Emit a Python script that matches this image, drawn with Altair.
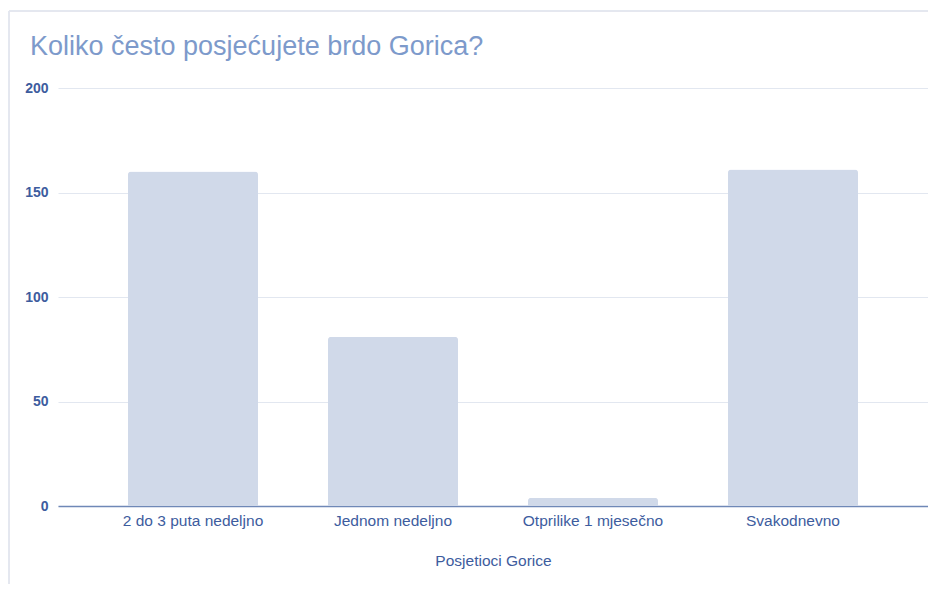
import altair as alt
import pandas as pd

categories = ["2 do 3 puta nedeljno", "Jednom nedeljno", "Otprilike 1 mjesečno", "Svakodnevno"]
values = [160, 81, 4, 161]
title_text = ["Koliko često posjećujete brdo Gorica?"]

df = pd.DataFrame({"kategorija": categories, "broj": values})
tdf = pd.DataFrame({"t": title_text})

FONT = "Liberation Sans"
BLUE = "#3d5c9e"

bars = alt.Chart(df).mark_bar(
    color="#d0d9e9", cornerRadiusTopLeft=3, cornerRadiusTopRight=3
).encode(
    x=alt.X(
        "kategorija:N",
        sort=categories,
        title="Posjetioci Gorice",
        scale=alt.Scale(paddingInner=0.35, paddingOuter=0.35),
        axis=alt.Axis(
            labelAngle=0, labelFont=FONT, labelFontSize=15.5, labelColor=BLUE,
            titleFont=FONT, titleFontSize=15.5, titleColor=BLUE, titleFontWeight="normal",
            titlePadding=25, labelPadding=7, ticks=False, grid=False,
            domainColor="#6f88b7", domainWidth=1.6,
        ),
    ),
    y=alt.Y(
        "broj:Q",
        title=None,
        scale=alt.Scale(domain=[0, 200]),
        axis=alt.Axis(
            values=[0, 50, 100, 150, 200], labelFont=FONT, labelFontSize=14,
            labelColor=BLUE, labelFontWeight="bold", labelPadding=10,
            ticks=False, domain=False, gridColor="#e2e7f0", gridWidth=1.2,
        ),
    ),
)

frame = alt.Chart(df).mark_rect(
    fill=None, stroke="#e3e6ee", strokeWidth=1
).encode(
    x=alt.value(-49), x2=alt.value(900), y=alt.value(-77), y2=alt.value(120 + 418)
)

title = alt.Chart(tdf).mark_text(
    align="left", baseline="alphabetic", font=FONT, fontSize=27, color="#7d9acb"
).encode(
    x=alt.value(-28), y=alt.value(-33), text="t:N"
)

chart = alt.layer(frame, bars, title).properties(
    width=870,
    height=418,
    autosize=alt.AutoSizeParams(type="none"),
    padding={"left": 50, "top": 80, "right": 0, "bottom": 78},
).configure(background="white").configure_view(stroke=None)

chart.save("out.html", embed_options={"renderer": "svg", "actions": False})
